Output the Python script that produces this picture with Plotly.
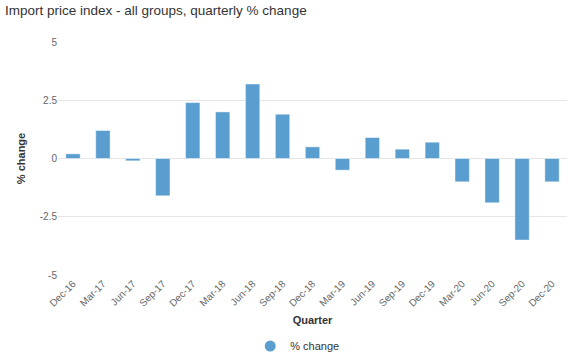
import plotly.graph_objects as go

quarters = ["Dec-16", "Mar-17", "Jun-17", "Sep-17", "Dec-17", "Mar-18", "Jun-18", "Sep-18",
            "Dec-18", "Mar-19", "Jun-19", "Sep-19", "Dec-19", "Mar-20", "Jun-20", "Sep-20", "Dec-20"]
pct_change = [0.2, 1.2, -0.1, -1.6, 2.4, 2.0, 3.2, 1.9, 0.5, -0.5, 0.9, 0.4, 0.7, -1.0, -1.9, -3.5, -1.0]
y_ticks = [-5, -2.5, 0, 2.5, 5]

bar_color = "#5a9ecf"
font_family = "Liberation Sans, Arial, sans-serif"

fig = go.Figure()
fig.add_trace(go.Bar(
    x=quarters, y=pct_change, name="% change", showlegend=False,
    marker=dict(color=bar_color, line=dict(color="rgba(255,255,255,0.45)", width=1)),
))
fig.add_trace(go.Scatter(
    x=[None], y=[None], mode="markers", name="% change",
    marker=dict(symbol="circle", size=11, color=bar_color),
))

fig.update_layout(
    width=580, height=359,
    paper_bgcolor="white", plot_bgcolor="white",
    margin=dict(l=58, r=13, t=42, b=84, autoexpand=False),
    bargap=0.52,
    font=dict(family=font_family, color="#666666", size=10),
    title=dict(text="Import price index - all groups, quarterly % change",
               x=0.0, xanchor="left", xref="container", y=0.972, yanchor="middle",
               pad=dict(l=5),
               font=dict(size=13.5, color="#333333", family=font_family)),
    xaxis=dict(
        title=dict(text="<b>Quarter</b>", font=dict(size=11, color="#333333"), standoff=8),
        tickangle=-45, tickfont=dict(size=10, color="#666666"),
        showgrid=False, showline=False, ticks="", automargin=False,
    ),
    yaxis=dict(
        title=dict(text="<b>% change</b>", font=dict(size=11, color="#333333"), standoff=11),
        range=[-5, 5], tickvals=y_ticks, ticktext=["-5", "-2.5", "0", "2.5", "5"],
        tickfont=dict(size=10, color="#666666"),
        showgrid=True, gridcolor="#e6e6e6", gridwidth=1,
        zeroline=True, zerolinecolor="#e6e6e6", zerolinewidth=1,
        ticks="", ticklen=0, automargin=False,
    ),
    legend=dict(orientation="h", x=0.47, xanchor="center", y=-0.305, yanchor="middle",
                font=dict(size=11, color="#333333"), itemwidth=30),
)

fig.write_html("out.html",
               config={"displayModeBar": False},
               post_script="document.body.style.margin='0';document.body.style.overflow='hidden';")
